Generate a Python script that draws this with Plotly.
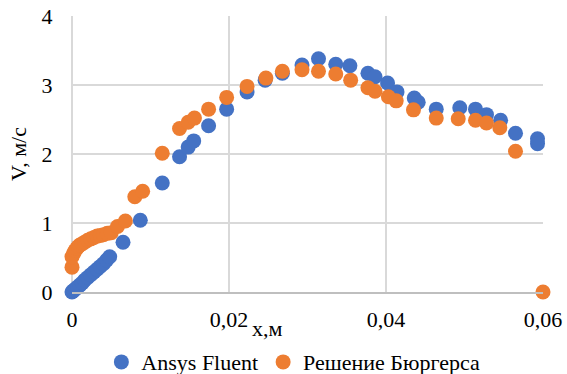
import plotly.graph_objects as go

# Velocity profile V(x): CFD result vs. Burgers-equation solution
fluent_x = [0, 0.0002, 0.0004, 0.0007, 0.001, 0.0013, 0.0016, 0.002, 0.0024, 0.0028,
            0.0032, 0.0036, 0.004, 0.0044, 0.0048, 0.0065, 0.0087, 0.0115, 0.0137, 0.0148,
            0.0155, 0.0174, 0.0197, 0.0223, 0.0246, 0.0268, 0.0293, 0.0314, 0.0336, 0.0354,
            0.0377, 0.0386, 0.0402, 0.0414, 0.0436, 0.0441, 0.0464, 0.0494, 0.0514, 0.0528,
            0.0546, 0.0565, 0.0593, 0.0593]
fluent_v = [0, 0.02, 0.04, 0.07, 0.10, 0.13, 0.17, 0.21, 0.25, 0.29,
            0.33, 0.37, 0.41, 0.46, 0.51, 0.72, 1.04, 1.58, 1.96, 2.10,
            2.19, 2.41, 2.65, 2.90, 3.07, 3.17, 3.29, 3.38, 3.30, 3.28,
            3.17, 3.12, 3.03, 2.90, 2.81, 2.75, 2.65, 2.67, 2.65, 2.57,
            2.49, 2.30, 2.22, 2.15]

burgers_x = [0, 0, 0.0002, 0.0004, 0.0006, 0.0008, 0.001, 0.0013, 0.0016, 0.002,
             0.0024, 0.0028, 0.0032, 0.0036, 0.004, 0.0045, 0.005, 0.0058, 0.0068, 0.0080,
             0.0090, 0.0115, 0.0137, 0.0148, 0.0156, 0.0174, 0.0197, 0.0223, 0.0247, 0.0268,
             0.0293, 0.0314, 0.0336, 0.0355, 0.0377, 0.0386, 0.0403, 0.0413, 0.0435, 0.0464,
             0.0492, 0.0514, 0.0528, 0.0545, 0.0565, 0.06]
burgers_v = [0.36, 0.51, 0.56, 0.60, 0.63, 0.66, 0.68, 0.70, 0.72, 0.75,
             0.77, 0.79, 0.81, 0.82, 0.83, 0.85, 0.86, 0.95, 1.03, 1.38,
             1.46, 2.01, 2.37, 2.46, 2.52, 2.65, 2.82, 2.98, 3.10, 3.20,
             3.22, 3.20, 3.16, 3.07, 2.96, 2.91, 2.83, 2.77, 2.64, 2.52,
             2.51, 2.49, 2.45, 2.38, 2.04, 0]

x_ticks = [0, 0.02, 0.04, 0.06]
x_tick_text = ["0", "0,02", "0,04", "0,06"]
y_ticks = [0, 1, 2, 3, 4]

FONT = "Liberation Serif, Times New Roman, serif"
FS = 22
GRID = "#D9D9D9"
TXT = dict(family=FONT, size=FS, color="#000000")

fig = go.Figure()
fig.add_trace(go.Scatter(
    x=fluent_x, y=fluent_v, mode="markers", name="Ansys Fluent",
    marker=dict(color="#4472C4", size=15, line=dict(width=0)),
    cliponaxis=False,
))
fig.add_trace(go.Scatter(
    x=burgers_x, y=burgers_v, mode="markers", name="Решение Бюргерса",
    marker=dict(color="#ED7D31", size=15, line=dict(width=0)),
    cliponaxis=False,
))

fig.update_layout(
    width=567, height=374,
    margin=dict(l=72, r=24, t=16, b=82, autoexpand=False),
    paper_bgcolor="white", plot_bgcolor="white",
    font=TXT,
    showlegend=True,
    legend=dict(
        orientation="h", x=0.47, xanchor="center", y=-0.254, yanchor="middle",
        font=TXT, itemwidth=30, tracegroupgap=0,
    ),
    xaxis=dict(
        range=[0, 0.06], tickvals=x_ticks, ticktext=x_tick_text,
        showgrid=True, gridcolor=GRID, gridwidth=1.5,
        zeroline=True, zerolinecolor=GRID, zerolinewidth=1.5,
        showline=True, linecolor="#BFBFBF", linewidth=1.5,
        ticks="outside", ticklen=7, tickcolor="rgba(0,0,0,0)",
        tickfont=TXT,
    ),
    yaxis=dict(
        range=[0, 4], tickvals=y_ticks,
        showgrid=True, gridcolor=GRID, gridwidth=1.5,
        zeroline=False, showline=False,
        ticks="outside", ticklen=14, tickcolor="rgba(0,0,0,0)",
        tickfont=TXT,
        title=dict(text="V, м/с", font=TXT, standoff=8),
    ),
    annotations=[dict(
        text="x,м", xref="paper", yref="paper",
        x=(267 - 72) / 471, y=(292 - 328) / 276,
        xanchor="center", yanchor="middle", showarrow=False,
        font=TXT,
    )],
)

fig.write_html("out.html")
